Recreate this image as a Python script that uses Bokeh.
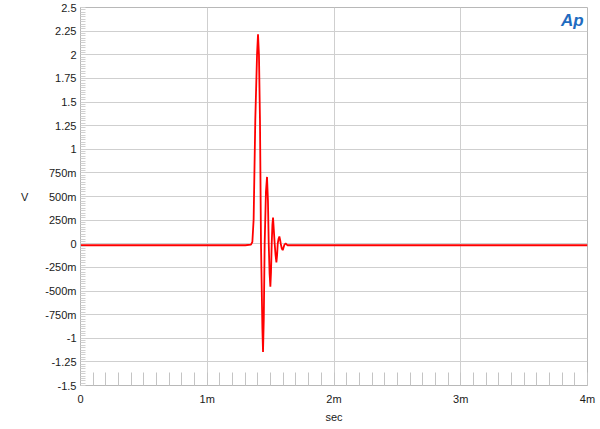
from bokeh.plotting import figure
from bokeh.models import FixedTicker, Range1d, Label
from bokeh.embed import file_html
from bokeh.resources import INLINE

# Impulse response trace (time in ms, voltage in V)
t_ms = [0.0, 1.30, 1.345, 1.356, 1.366, 1.379, 1.393, 1.4005, 1.408, 1.416, 1.424,
        1.435, 1.440, 1.446, 1.453, 1.463, 1.4716, 1.479, 1.485, 1.492, 1.498, 1.503,
        1.5085, 1.514, 1.519, 1.525, 1.532, 1.539, 1.5455, 1.551, 1.556, 1.562, 1.569,
        1.575, 1.580, 1.588, 1.5955, 1.602, 1.609, 1.616, 1.622, 1.632, 1.648, 4.0]
volts = [-0.016, -0.016, -0.01, 0.02, 0.26, 1.31, 2.01, 2.216, 2.0, 1.31, 0.0,
         -0.9, -1.145, -0.8, 0.0, 0.55, 0.707, 0.45, 0.0, -0.32, -0.455, -0.3,
         0.0, 0.2, 0.276, 0.15, 0.0, -0.12, -0.198, -0.12, 0.0, 0.05, 0.076,
         0.04, 0.0, -0.05, -0.068, -0.04, -0.01, 0.0, 0.0, -0.016, -0.016, -0.016]

x_ticks_ms = [0, 1, 2, 3, 4]
x_tick_labels = ["0", "1m", "2m", "3m", "4m"]
y_ticks = [-1.5, -1.25, -1.0, -0.75, -0.5, -0.25, 0.0, 0.25, 0.5, 0.75,
           1.0, 1.25, 1.5, 1.75, 2.0, 2.25, 2.5]
y_tick_labels = ["-1.5", "-1.25", "-1", "-750m", "-500m", "-250m", "0", "250m",
                 "500m", "750m", "1", "1.25", "1.5", "1.75", "2", "2.25", "2.5"]

FONT = "Liberation Sans"
GRID = "#cfcfcf"
TEXT = "#1a1a1a"

xs = [t / 1000.0 for t in t_ms]
x_major = [t / 1000.0 for t in x_ticks_ms]
x_minor = [i * 0.0001 for i in range(41)]
y_minor = [-1.5 + i * 0.025 for i in range(161)]

p = figure(width=600, height=428, output_backend="svg", toolbar_location=None,
           x_range=Range1d(0, 0.004), y_range=Range1d(-1.5, 2.5),
           min_border_left=80, min_border_right=13, min_border_top=7,
           min_border_bottom=43)

p.background_fill_color = "white"
p.border_fill_color = "white"
p.outline_line_color = "#b8b8b8"
p.outline_line_width = 1

# axes
xa = p.xaxis[0]
xa.ticker = FixedTicker(ticks=x_major, minor_ticks=x_minor)
xa.major_label_overrides = {v: s for v, s in zip(x_major, x_tick_labels)}
xa.axis_label = "sec"
xa.axis_label_text_font = FONT
xa.axis_label_text_font_size = "11px"
xa.axis_label_text_font_style = "normal"
xa.axis_label_text_color = TEXT
xa.axis_label_standoff = 3
xa.major_label_text_font = FONT
xa.major_label_text_font_size = "11px"
xa.major_label_text_color = TEXT
xa.major_label_standoff = 7
xa.axis_line_color = "#b8b8b8"
xa.major_tick_in = 0
xa.major_tick_out = 0
xa.minor_tick_in = 13
xa.minor_tick_out = 0
xa.minor_tick_line_color = "#c4c4c4"

ya = p.yaxis[0]
ya.ticker = FixedTicker(ticks=y_ticks, minor_ticks=y_minor)
ya.major_label_overrides = {v: s for v, s in zip(y_ticks, y_tick_labels)}
ya.major_label_text_font = FONT
ya.major_label_text_font_size = "11px"
ya.major_label_text_color = TEXT
ya.major_label_standoff = 4
ya.axis_label = "V"
ya.axis_label_orientation = "horizontal"
ya.axis_label_standoff = 14
ya.axis_label_text_font = FONT
ya.axis_label_text_font_size = "11px"
ya.axis_label_text_font_style = "normal"
ya.axis_label_text_color = TEXT
ya.axis_line_color = "#b8b8b8"
ya.major_tick_in = 0
ya.major_tick_out = 0
ya.minor_tick_in = 5
ya.minor_tick_out = 0
ya.minor_tick_line_color = "#d0d0d0"

p.xgrid.grid_line_color = GRID
p.ygrid.grid_line_color = GRID
p.xgrid.grid_line_width = 1
p.ygrid.grid_line_width = 1

p.line(xs, volts, line_color="#ff0000", line_width=1.8)

p.add_layout(Label(x=0.00388, y=2.36, text="Ap", text_font=FONT,
                   text_font_size="17px", text_font_style="bold italic",
                   text_color="#1f6cc0", text_align="center",
                   text_baseline="middle"))

open("out.html", "w").write(file_html(p, INLINE))
